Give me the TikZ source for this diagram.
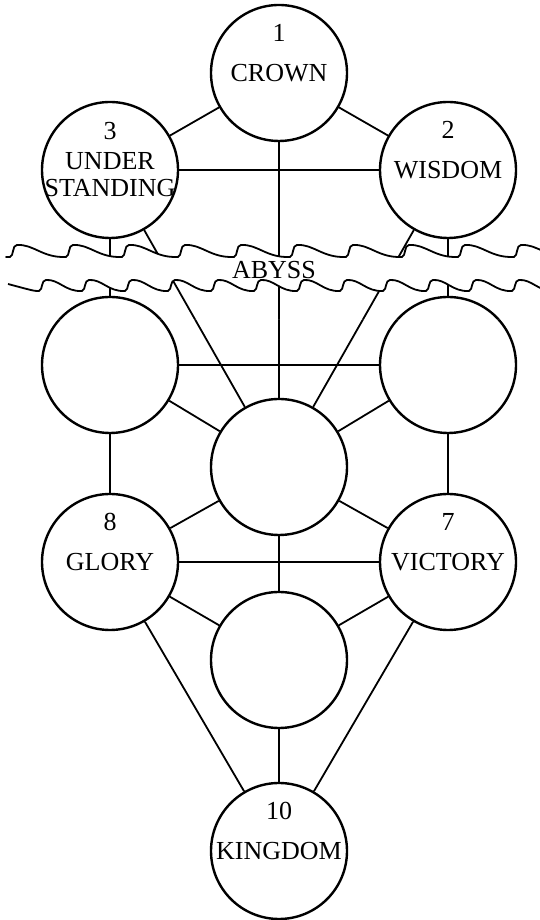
\documentclass[tikz,border=0pt]{standalone}
\usepackage{fontspec}
\setmainfont{Liberation Serif}
\usepackage{tikz}
\usetikzlibrary{positioning, calc}

% one wavy edge of the abyss: first peak x, period, peak y, trough y, start y
\newcommand{\abyssedge}[5]{%
  (8,#5) .. controls ({#1-12},#4) .. ({#1-7},#4)
  .. controls ({#1-3},#4+1) and ({#1-5},#3) .. (#1,#3)
  \foreach \k in {0,...,13} {
    .. controls ({#1+\k*#2+0.3*#2},#3+1) and ({#1+\k*#2+0.45*#2},#4-1) .. ({#1+(\k+1)*#2-7},#4)
    .. controls ({#1+(\k+1)*#2-3},#4+1) and ({#1+(\k+1)*#2-5},#3) .. ({#1+(\k+1)*#2},#3)
  }}

\begin{document}
\begin{tikzpicture}[x=1pt, y=1pt,
  orb/.style={circle, draw, line width=2.4pt, minimum size=136pt, inner sep=0pt},
  numlab/.style={font=\fontsize{26}{27}\selectfont, inner sep=0pt},
  namelab/.style={font=\fontsize{26}{27}\selectfont, align=center, inner sep=0pt},
  link/.style={line width=1.8pt},
  wave/.style={line width=1.8pt, line join=round}]
  \useasboundingbox (0,0) rectangle (540,920);
  \clip (0,0) rectangle (540,920);
  % the ten circles
  \node[orb] (c1) at (279,847) {};
  \node[orb] (c2) at (448,750) {};
  \node[orb] (c3) at (110,750) {};
  \node[orb] (c4) at (448,555) {};
  \node[orb] (c5) at (110,555) {};
  \node[orb] (c6) at (279,453) {};
  \node[orb] (c7) at (448,358) {};
  \node[orb] (c8) at (110,358) {};
  \node[orb] (c9) at (279,260) {};
  \node[orb] (c10) at (279,69) {};
  % paths
  \foreach \a/\b in {c1/c2, c1/c3, c1/c6, c2/c3, c2/c4, c2/c6, c3/c5, c3/c6,
                     c4/c5, c4/c6, c4/c7, c5/c6, c5/c8, c6/c7, c6/c8, c6/c9,
                     c7/c8, c7/c9, c7/c10, c8/c9, c8/c10, c9/c10}
    \draw[link] (\a) -- (\b);
  % the abyss
  \fill[white, even odd rule] \abyssedge{17}{56}{675}{663}{663} -- (820,600) -- (0,600) -- cycle
    \abyssedge{46}{43}{640}{629}{636} -- (820,600) -- (0,600) -- cycle;
  \draw[wave] \abyssedge{17}{56}{675}{663}{663};
  \draw[wave] \abyssedge{46}{43}{640}{629}{636};
  \node[namelab] (abyss) at (274,650) {ABYSS};
  % labels
  \foreach \n/\num/\name in {c1/1/CROWN, c2/2/WISDOM, c7/7/VICTORY, c8/8/GLORY, c10/10/KINGDOM} {
    \node[numlab] (\n-num) at ([yshift=40]\n.center) {\num};
    \node[namelab] (\n-name) at (\n) {\name};
  }
  \node[numlab] (c3-num) at ([yshift=39]c3.center) {3};
  \node[namelab] (c3-name) at ([yshift=-5]c3.center) {UNDER\\STANDING};
\end{tikzpicture}
\end{document}
